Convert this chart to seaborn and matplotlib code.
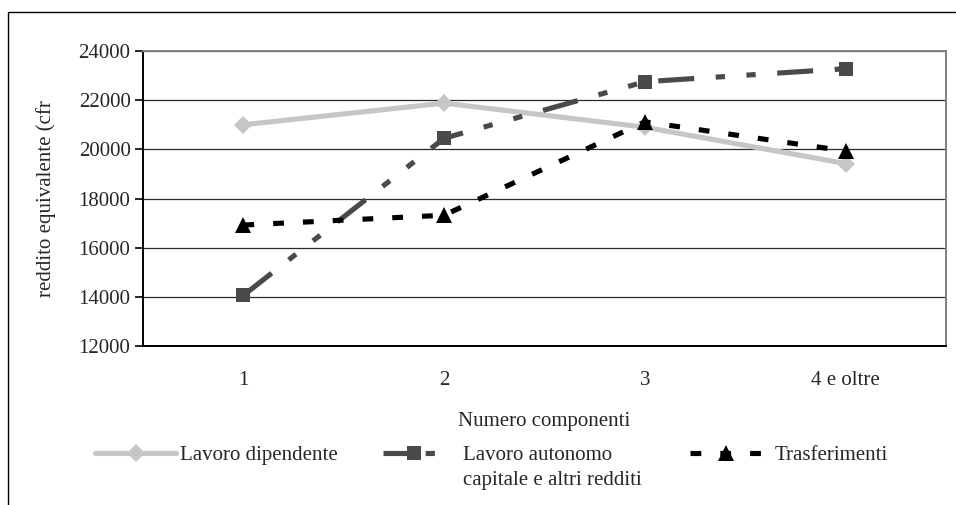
import numpy as np
import pandas as pd
import seaborn as sns
import matplotlib.pyplot as plt
from matplotlib.patches import Rectangle

# dati
componenti = ['1', '2', '3', '4 e oltre']
dipendente = [21000, 21880, 20900, 19420]
autonomo = [14060, 20450, 22750, 23280]
trasferimenti = [16920, 17320, 21120, 19930]

serie = ['Lavoro dipendente', 'Lavoro autonomo', 'Trasferimenti']

df = pd.DataFrame({
    'componenti': componenti * 3,
    'reddito': dipendente + autonomo + trasferimenti,
    'serie': np.repeat(serie, len(componenti)),
})

sns.set_style('white')
plt.rcParams['font.family'] = ['Liberation Serif', 'DejaVu Serif']
plt.rcParams['font.size'] = 15

fig = plt.figure(figsize=(9.56, 5.05), dpi=100)
ax = fig.add_axes([143/956, 1 - 346/505, (946 - 143)/956, (346 - 51)/505])

colori = {serie[0]: '#c6c6c6', serie[1]: '#4a4a4a', serie[2]: '#000000'}
marker = {serie[0]: 'D', serie[1]: 's', serie[2]: '^'}
tratti = {serie[0]: '', serie[1]: (7, 4.2, 1.8, 4.2, 1.8, 4.2), serie[2]: (2.1, 3.7)}
dim_marker = [9, 10, 11]

sns.lineplot(data=df, x='componenti', y='reddito', hue='serie', style='serie',
             hue_order=serie, style_order=serie, palette=colori,
             markers=marker, dashes=tratti, linewidth=3.7, markersize=10,
             markeredgewidth=0, ax=ax, sort=False, zorder=3)

for linea, ms in zip(ax.lines, dim_marker):
    linea.set_markersize(ms)

ax.set_ylim(12000, 24000)
ax.set_yticks(range(12000, 24001, 2000))
ax.set_xlim(-0.5, 3.5)
ax.set_xticks(range(4))
ax.set_xticklabels(componenti)
ax.set_xticks(np.arange(-0.5, 4, 1), minor=True)
ax.tick_params(axis='x', which='major', length=0, pad=18)
ax.tick_params(axis='x', which='minor', length=6, width=1.2, color='black', direction='out')
ax.tick_params(axis='y', length=6, width=1.2, color='black', direction='out', left=True, pad=3)

ax.grid(axis='y', color='#2a2a2a', linewidth=0.9)
ax.set_axisbelow(True)
for lato in ['left', 'bottom']:
    ax.spines[lato].set_color('black')
    ax.spines[lato].set_linewidth(1.4)
for lato in ['top', 'right']:
    ax.spines[lato].set_color('#7f7f7f')
    ax.spines[lato].set_linewidth(1.4)

ax.set_xlabel('Numero componenti', labelpad=16)
ax.set_ylabel('reddito equivalente (cfr', labelpad=16)

maniglie, etichette = ax.get_legend_handles_labels()
ax.get_legend().remove()
for h, ms in zip(maniglie, dim_marker):
    h.set_markersize(ms)
# nel campione della legenda il tratto lungo precede il quadrato, poi un trattino
maniglie[1].set_dashes((7, 1.2, 1.8, 4.2))

# una legenda per voce, come in Excel
pos_x = [95, 383, 690]
lung = [3.9, 3.0, 3.45]
spazio = [0.2, 0.85, 0.6]
legende = []
for h, l, x, hl, sp in zip(maniglie, etichette, pos_x, lung, spazio):
    leg = fig.legend([h], [l], loc='center left', bbox_to_anchor=(x/956, 1 - 455/505),
                     frameon=False, handlelength=hl, handletextpad=sp,
                     borderpad=0, borderaxespad=0, fontsize=15)
    legende.append(leg)

fig.canvas.draw()
bb = legende[1].get_texts()[0].get_window_extent()
fig.text(bb.x0 / 956, 1 - 480/505, 'capitale e altri redditi', ha='left', va='center',
         fontsize=15)

# cornice esterna
fig.patches.append(Rectangle((8/956, -0.1), 1.0, (505 - 12)/505 + 0.1,
                             transform=fig.transFigure, fill=False,
                             edgecolor='black', linewidth=1.0))

fig.savefig('out.png', dpi=100)
